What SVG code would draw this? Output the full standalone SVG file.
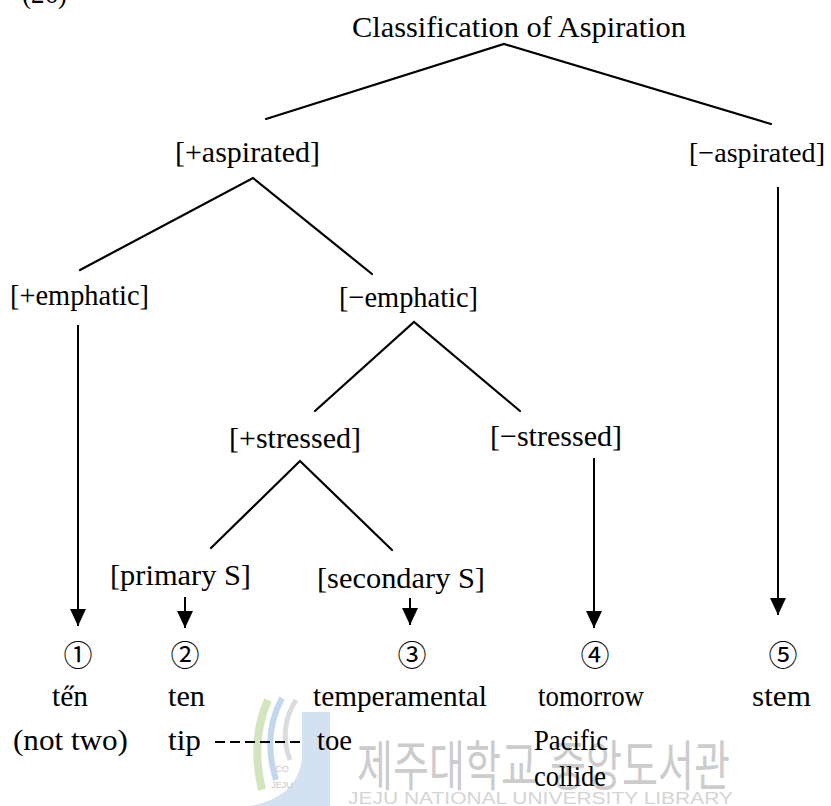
<svg xmlns="http://www.w3.org/2000/svg" width="831" height="806" viewBox="0 0 831 806">
<style>
.t{font-family:"Liberation Serif","Times New Roman",serif;font-size:30px;fill:#000}
.c{font-family:"Noto Sans CJK KR","DejaVu Sans",sans-serif;font-size:29px;fill:#000;text-anchor:middle}
.ln{stroke:#000;stroke-width:2.2;fill:none;stroke-linecap:round}
.ar{stroke:#000;stroke-width:2;fill:none}
.wk{font-family:"Noto Sans CJK KR",sans-serif;fill:#cccccc}
.we{font-family:"Liberation Sans",Arial,sans-serif;fill:#d4d4d4}
</style>
<defs>
<marker id="ah" markerUnits="userSpaceOnUse" markerWidth="18" markerHeight="17" refX="17" refY="8" orient="auto">
<path d="M0,0 L17,8 L0,16 Z" fill="#000"/>
</marker>
</defs>
<rect width="831" height="806" fill="#fff"/>

<g id="watermark">
<path d="M302,712 L330,712 L330,806 L250,806 Q296,798 302,760 Z" fill="#c8d9ee" opacity="0.8"/>
<path d="M268,700 Q250,740 262,790" stroke="#d3e5bf" stroke-width="8" fill="none"/>
<path d="M282,698 Q262,735 276,780" stroke="#c2d6ec" stroke-width="6" fill="none"/>
<path d="M296,700 Q278,728 290,760" stroke="#dcdcdc" stroke-width="5" fill="none"/>
<text x="282" y="772" font-family="Liberation Sans,sans-serif" font-size="9" fill="#c9c9c9" text-anchor="middle">CO</text>
<text x="282" y="788" font-family="Liberation Sans,sans-serif" font-size="9" fill="#c9c9c9" text-anchor="middle">JEJU</text>
<text class="wk" x="357" y="786" font-size="54" textLength="180" lengthAdjust="spacingAndGlyphs">제주대학교</text>
<text class="wk" x="550" y="786" font-size="54" textLength="180" lengthAdjust="spacingAndGlyphs">중앙도서관</text>
<text class="we" x="348" y="804" font-size="16" textLength="385" lengthAdjust="spacingAndGlyphs">JEJU NATIONAL UNIVERSITY LIBRARY</text>
</g>

<g id="number"><text class="t" x="22" y="3" textLength="45" lengthAdjust="spacingAndGlyphs">(26)</text></g>

<g id="connectors">
<polyline class="ln" points="266,119 504,44 771,124"/>
<polyline class="ln" points="80,270 253,178 372,274"/>
<polyline class="ln" points="315,411 414,322 520,411"/>
<polyline class="ln" points="211,548 300,461 392,550"/>
<line class="ar" x1="78" y1="325" x2="78" y2="626" marker-end="url(#ah)"/>
<line class="ar" x1="185" y1="597" x2="185" y2="628" marker-end="url(#ah)"/>
<line class="ar" x1="410" y1="598" x2="410" y2="625" marker-end="url(#ah)"/>
<line class="ar" x1="594" y1="458" x2="594" y2="628" marker-end="url(#ah)"/>
<line class="ar" x1="778" y1="187" x2="778" y2="615" marker-end="url(#ah)"/>
</g>

<g id="root"><text class="t" x="352" y="37" textLength="334" lengthAdjust="spacingAndGlyphs">Classification of Aspiration</text></g>
<g id="plus-aspirated"><text class="t" x="175" y="162" textLength="145" lengthAdjust="spacingAndGlyphs">[+aspirated]</text></g>
<g id="minus-aspirated"><text class="t" x="689" y="162" font-size="28" style="font-size:28px" textLength="136" lengthAdjust="spacingAndGlyphs">[−aspirated]</text></g>
<g id="plus-emphatic"><text class="t" x="10" y="305" textLength="139" lengthAdjust="spacingAndGlyphs">[+emphatic]</text></g>
<g id="minus-emphatic"><text class="t" x="339" y="307" textLength="139" lengthAdjust="spacingAndGlyphs">[−emphatic]</text></g>
<g id="plus-stressed"><text class="t" x="229" y="448" textLength="132" lengthAdjust="spacingAndGlyphs">[+stressed]</text></g>
<g id="minus-stressed"><text class="t" x="490" y="446" textLength="132" lengthAdjust="spacingAndGlyphs">[−stressed]</text></g>
<g id="primary-s"><text class="t" x="110" y="585" textLength="141" lengthAdjust="spacingAndGlyphs">[primary S]</text></g>
<g id="secondary-s"><text class="t" x="317" y="588" textLength="168" lengthAdjust="spacingAndGlyphs">[secondary S]</text></g>

<g id="leaf1">
<text class="c" x="78" y="666">①</text>
<text class="t" x="52" y="706" textLength="36" lengthAdjust="spacingAndGlyphs">te&#x30B;n</text>
<text class="t" x="13" y="750" textLength="115" lengthAdjust="spacingAndGlyphs">(not two)</text>
</g>
<g id="leaf2">
<text class="c" x="185" y="666">②</text>
<text class="t" x="168" y="706" textLength="37" lengthAdjust="spacingAndGlyphs">ten</text>
<text class="t" x="168" y="750" textLength="33" lengthAdjust="spacingAndGlyphs">tip</text>
<line x1="215" y1="742" x2="303" y2="742" stroke="#000" stroke-width="2" stroke-dasharray="10,5"/>
</g>
<g id="leaf3">
<text class="c" x="412" y="666">③</text>
<text class="t" x="313" y="706" textLength="174" lengthAdjust="spacingAndGlyphs">temperamental</text>
<text class="t" x="317" y="750" textLength="35" lengthAdjust="spacingAndGlyphs">toe</text>
</g>
<g id="leaf4">
<text class="c" x="595" y="666">④</text>
<text class="t" x="538" y="706" textLength="106" lengthAdjust="spacingAndGlyphs">tomorrow</text>
<text class="t" x="534" y="750" textLength="74" lengthAdjust="spacingAndGlyphs">Pacific</text>
<text class="t" x="534" y="786" textLength="72" lengthAdjust="spacingAndGlyphs">collide</text>
</g>
<g id="leaf5">
<text class="c" x="783" y="666">⑤</text>
<text class="t" x="752" y="706" textLength="59" lengthAdjust="spacingAndGlyphs">stem</text>
</g>
</svg>
